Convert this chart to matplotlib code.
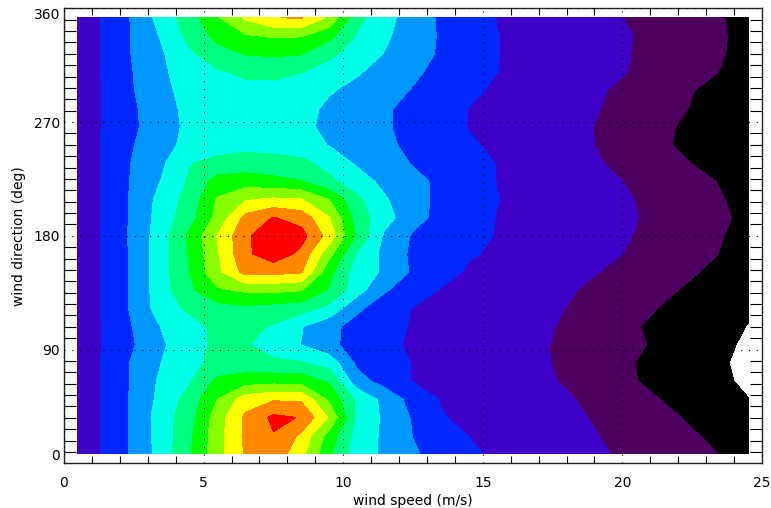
import matplotlib
matplotlib.use("Agg")
import matplotlib.pyplot as plt
from matplotlib import ticker

# wind speed bin centres (m/s) and wind direction rows (deg)
speed = [0.5, 1.5, 2.5, 3.5, 4.5, 5.5, 6.5, 7.5, 8.5, 9.5, 10.5, 11.5, 12.5,
         13.5, 14.5, 15.5, 16.5, 17.5, 18.5, 19.5, 20.5, 21.5, 22.5, 23.5, 24.5]
direction = [7.5, 21.9, 36.3, 50.6, 65.0, 79.4, 93.8, 108.1, 122.5, 136.9,
             151.3, 165.6, 180.0, 194.4, 208.8, 223.1, 237.5, 251.9, 266.3,
             280.6, 295.0, 309.4, 323.8, 338.1, 352.5]

# contour band index (rows = direction, cols = speed)
freq = [
    [3.4, 4.15, 5.2, 6.4, 7.9, 9.6, 11.1, 11.7, 10.3, 8.2, 6.4, 5.85, 5.1, 4.7, 4.2, 3.8, 3.6, 3.4, 3.2, 3.02, 2.8, 2.55, 2.3, 1.97, 1.6],
    [3.4, 4.15, 5.2, 6.45, 7.8, 9.6, 11.2, 11.95, 10.8, 8.6, 6.6, 5.8, 4.98, 4.55, 3.98, 3.78, 3.6, 3.4, 3.2, 2.9, 2.6, 2.35, 2.08, 1.8, 1.45],
    [3.4, 4.15, 5.2, 6.5, 7.6, 9.5, 11.2, 12.2, 11.95, 9.9, 6.8, 5.8, 4.9, 4.05, 3.8, 3.6, 3.45, 3.3, 3.07, 2.8, 2.5, 2.2, 1.87, 1.55, 1.2],
    [3.4, 4.15, 5.2, 6.3, 7.4, 9.02, 10.5, 10.9, 10.85, 8.8, 6.8, 5.7, 4.6, 3.95, 3.75, 3.6, 3.42, 3.22, 2.95, 2.65, 2.3, 1.95, 1.6, 1.3, 1.02],
    [3.4, 4.15, 5.15, 6.2, 6.9, 8.25, 8.55, 8.65, 8.6, 7.85, 5.4, 4.6, 3.95, 3.8, 3.65, 3.5, 3.3, 3.05, 2.78, 2.45, 2.02, 1.7, 1.4, 1.15, 0.85],
    [3.4, 4.15, 5.15, 6.02, 6.75, 7.25, 7.35, 7.2, 7.1, 6.6, 4.8, 4.25, 3.98, 3.82, 3.65, 3.48, 3.25, 2.98, 2.68, 2.35, 1.98, 1.65, 1.35, 1.12, 0.75],
    [3.4, 4.1, 4.95, 5.85, 6.7, 7.15, 7.1, 6.5, 5.98, 5.3, 4.5, 4.15, 3.9, 3.75, 3.6, 3.45, 3.25, 2.97, 2.7, 2.42, 2.12, 1.8, 1.5, 1.2, 0.85],
    [3.4, 4.12, 5.05, 6.05, 6.6, 7.25, 7.3, 6.9, 6.05, 5.3, 4.6, 4.2, 3.95, 3.78, 3.6, 3.45, 3.28, 3.03, 2.72, 2.42, 2.05, 1.72, 1.45, 1.2, 0.98],
    [3.4, 4.15, 5.2, 6.5, 7.2, 7.6, 7.8, 7.6, 7.4, 6.7, 5.2, 4.4, 3.97, 3.8, 3.65, 3.48, 3.32, 3.12, 2.85, 2.55, 2.25, 1.92, 1.62, 1.35, 1.1],
    [3.4, 4.15, 5.2, 6.6, 7.8, 8.85, 9.15, 9.2, 9.05, 7.9, 6.4, 5.1, 4.4, 3.95, 3.78, 3.6, 3.42, 3.22, 2.97, 2.7, 2.45, 2.15, 1.85, 1.55, 1.25],
    [3.4, 4.15, 5.2, 6.6, 8.0, 9.75, 11.35, 11.3, 11.1, 8.3, 6.45, 5.85, 4.85, 4.3, 3.9, 3.72, 3.55, 3.38, 3.16, 2.92, 2.65, 2.38, 2.08, 1.78, 1.5],
    [3.4, 4.15, 5.2, 6.6, 8.1, 9.9, 11.8, 12.6, 11.75, 9.3, 6.9, 5.7, 4.8, 4.35, 4.08, 3.88, 3.7, 3.52, 3.33, 3.12, 2.88, 2.6, 2.3, 1.98, 1.65],
    [3.35, 4.15, 5.25, 6.55, 8.2, 10.05, 11.8, 12.8, 12.35, 10.6, 7.8, 5.8, 4.9, 4.45, 4.2, 3.97, 3.78, 3.6, 3.4, 3.2, 2.97, 2.68, 2.38, 2.05, 1.7],
    [3.4, 4.15, 5.2, 6.45, 7.6, 9.3, 11.3, 12.05, 11.6, 10.05, 7.5, 6.4, 5.3, 4.75, 4.35, 3.98, 3.8, 3.62, 3.43, 3.24, 3.02, 2.74, 2.45, 2.14, 1.8],
    [3.4, 4.15, 5.2, 6.35, 7.4, 9.1, 9.9, 10.15, 10.05, 8.98, 7.2, 6.1, 5.3, 4.8, 4.4, 4.02, 3.82, 3.62, 3.42, 3.22, 2.98, 2.7, 2.4, 2.06, 1.7],
    [3.4, 4.15, 5.15, 6.05, 7.15, 8.4, 8.5, 8.3, 8.05, 7.2, 6.5, 5.7, 5.2, 4.85, 4.4, 3.99, 3.8, 3.58, 3.36, 3.13, 2.88, 2.6, 2.28, 1.95, 1.6],
    [3.4, 4.15, 5.1, 5.85, 6.95, 7.3, 7.45, 7.3, 7.2, 6.7, 5.85, 5.35, 4.95, 4.6, 4.28, 3.98, 3.75, 3.5, 3.25, 2.95, 2.62, 2.3, 1.98, 1.65, 1.35],
    [3.4, 4.15, 4.98, 5.65, 6.3, 6.55, 6.7, 6.7, 6.55, 5.95, 5.5, 5.2, 4.75, 4.4, 4.1, 3.85, 3.62, 3.4, 3.15, 2.85, 2.5, 2.1, 1.75, 1.45, 1.15],
    [3.4, 4.12, 4.85, 5.6, 6.2, 6.45, 6.5, 6.5, 6.25, 5.75, 5.4, 5.1, 4.7, 4.35, 3.97, 3.8, 3.6, 3.38, 3.13, 2.85, 2.5, 2.15, 1.78, 1.45, 1.15],
    [3.4, 4.12, 4.88, 5.65, 6.25, 6.5, 6.6, 6.6, 6.35, 5.8, 5.45, 5.1, 4.75, 4.38, 3.99, 3.8, 3.6, 3.4, 3.2, 2.92, 2.6, 2.3, 1.95, 1.6, 1.3],
    [3.4, 4.12, 4.98, 5.75, 6.35, 6.6, 6.75, 6.8, 6.6, 6.1, 5.7, 5.3, 4.95, 4.6, 4.15, 3.88, 3.67, 3.45, 3.23, 2.99, 2.7, 2.38, 2.03, 1.7, 1.38],
    [3.4, 4.13, 5.02, 5.85, 6.45, 6.9, 7.15, 7.15, 7.02, 6.6, 6.1, 5.6, 5.15, 4.75, 4.4, 4.01, 3.8, 3.58, 3.38, 3.17, 2.92, 2.62, 2.32, 1.98, 1.62],
    [3.4, 4.13, 5.1, 5.9, 6.8, 7.6, 8.05, 8.15, 8.05, 7.2, 6.6, 5.95, 5.4, 4.88, 4.45, 4.02, 3.8, 3.6, 3.4, 3.2, 2.95, 2.67, 2.37, 2.08, 1.68],
    [3.4, 4.13, 5.1, 6.1, 7.3, 8.3, 8.9, 9.1, 9.05, 8.3, 6.9, 6.15, 5.5, 4.9, 4.45, 4.02, 3.82, 3.62, 3.42, 3.22, 2.97, 2.7, 2.4, 2.1, 1.72],
    [3.4, 4.13, 5.15, 6.4, 7.55, 8.9, 10.15, 10.97, 11.08, 9.8, 7.3, 6.3, 5.55, 4.85, 4.4, 3.98, 3.78, 3.58, 3.38, 3.13, 2.88, 2.6, 2.3, 2.05, 1.75],
]

band_levels = [1, 2, 3, 4, 5, 6, 7, 8, 9, 10, 11, 12, 13]
band_colors = ['#000000', '#4d0060', '#3f00c8', '#0028ff', '#0098ff', '#00ffe6',
               '#00ff80', '#00ff00', '#88ff00', '#ffff00', '#ff8800', '#ff0000']

ytick_vals = [0, 90, 180, 270, 360]

fig = plt.figure(figsize=(7.71, 5.08), dpi=100)
ax = fig.add_axes([64/771, 44.7/508, 698/771, 455/508])

ax.contourf(speed, direction, freq, levels=band_levels, colors=band_colors)

ax.set_xlim(0, 25)
ax.set_ylim(0, 360)
ax.xaxis.set_major_locator(ticker.MultipleLocator(5))
ax.xaxis.set_minor_locator(ticker.MultipleLocator(1))
ax.yaxis.set_major_locator(ticker.FixedLocator(ytick_vals))
ax.yaxis.set_minor_locator(ticker.MultipleLocator(9))

ax.set_axisbelow(False)
ax.grid(True, which='major', color='black', linestyle=(0, (1, 6)), linewidth=0.8)

ax.tick_params(which='both', direction='in', top=True, right=True, colors='black',
               labelsize=10, width=0.8)
ax.tick_params(which='major', length=0)
ax.tick_params(axis='x', which='minor', length=5)
ax.tick_params(axis='y', which='minor', length=8.5)
ax.tick_params(axis='x', which='major', pad=9)
ax.tick_params(axis='y', which='major', pad=3)

for sp in ax.spines.values():
    sp.set_linewidth(1.0)
    sp.set_color('#222222')

labs = ax.get_yticklabels()
labs[0].set_va('bottom')
labs[-1].set_va('top')

ax.set_xlabel('wind speed (m/s)', fontsize=10, labelpad=3)
ax.set_ylabel('wind direction (deg)', fontsize=10, labelpad=5)

fig.savefig('out.png', dpi=100)
